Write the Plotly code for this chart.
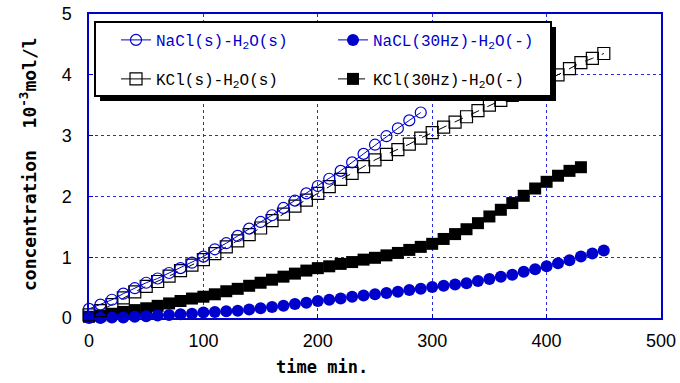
import plotly.graph_objects as go

# ---- data ----
t_nacl_s = list(range(0, 300, 10))
nacl_s = [0.15, 0.22, 0.30, 0.40, 0.49, 0.58, 0.65, 0.74, 0.82, 0.91,
          1.01, 1.13, 1.23, 1.35, 1.47, 1.58, 1.69, 1.81, 1.93, 2.05,
          2.17, 2.29, 2.42, 2.56, 2.70, 2.85, 2.99, 3.12, 3.25, 3.38]

t_nacl_30 = list(range(0, 460, 10))
nacl_30 = [0.00, 0.00, 0.01, 0.01, 0.02, 0.03, 0.04, 0.05, 0.06, 0.07,
           0.09, 0.10, 0.11, 0.12, 0.14, 0.16, 0.18, 0.20, 0.23, 0.25,
           0.28, 0.30, 0.32, 0.35, 0.37, 0.39, 0.41, 0.43, 0.46, 0.48,
           0.51, 0.53, 0.55, 0.57, 0.61, 0.64, 0.68, 0.71, 0.76, 0.80,
           0.85, 0.90, 0.95, 1.01, 1.06, 1.11]

t_kcl_s = list(range(0, 460, 10))
kcl_s = [0.05, 0.12, 0.22, 0.33, 0.43, 0.52, 0.60, 0.69, 0.78, 0.87,
         0.96, 1.06, 1.17, 1.27, 1.37, 1.48, 1.60, 1.71, 1.84, 1.94,
         2.05, 2.16, 2.28, 2.38, 2.49, 2.60, 2.69, 2.77, 2.86, 2.96,
         3.05, 3.14, 3.22, 3.31, 3.41, 3.50, 3.58, 3.66, 3.75, 3.84,
         3.92, 4.00, 4.10, 4.20, 4.27, 4.35]

t_kcl_30 = list(range(0, 440, 10))
kcl_30 = [0.02, 0.04, 0.07, 0.10, 0.13, 0.16, 0.20, 0.24, 0.28, 0.32,
          0.35, 0.39, 0.44, 0.48, 0.53, 0.58, 0.63, 0.68, 0.73, 0.78,
          0.82, 0.85, 0.89, 0.92, 0.96, 0.99, 1.03, 1.07, 1.12, 1.17,
          1.22, 1.30, 1.38, 1.46, 1.56, 1.67, 1.78, 1.89, 2.01, 2.13,
          2.24, 2.34, 2.42, 2.48]

x_ticks = [0, 100, 200, 300, 400, 500]
y_ticks = [0, 1, 2, 3, 4, 5]

BLUE = "#0000CC"
names = {
    "nacl_s": "<span style='color:#0000CC'>NaCl(s)-H<sub>2</sub>O(s)</span>",
    "nacl_30": "<span style='color:#0000CC'>NaCL(30Hz)-H<sub>2</sub>O(-)</span>",
    "kcl_s": "KCl(s)-H<sub>2</sub>O(s)",
    "kcl_30": "KCl(30Hz)-H<sub>2</sub>O(-)",
}

# figure fills the 680x383 window (body margin removed in post_script)
W, H = 680, 383
# plot area in window pixels: x 89..661, y 14..318
L, R, T, B = 89, W - 661, 14, H - 318
PW, PH = W - L - R, H - T - B


def px(x):
    return (x - L) / PW


def py(y):
    return (H - B - y) / PH


fig = go.Figure()
fig.add_trace(go.Scatter(x=t_kcl_30, y=kcl_30, mode="lines+markers", name=names["kcl_30"],
                         line=dict(color="black", width=1, dash="dash"),
                         marker=dict(symbol="square", size=12, color="black"),
                         cliponaxis=False, legend="legend2", legendrank=2))
fig.add_trace(go.Scatter(x=t_nacl_30, y=nacl_30, mode="lines+markers", name=names["nacl_30"],
                         line=dict(color=BLUE, width=1),
                         marker=dict(symbol="circle", size=12, color=BLUE),
                         cliponaxis=False, legend="legend", legendrank=2))
fig.add_trace(go.Scatter(x=t_kcl_s, y=kcl_s, mode="lines+markers", name=names["kcl_s"],
                         line=dict(color="black", width=1, dash="dash"),
                         marker=dict(symbol="square-open", size=12, color="black",
                                     line=dict(width=1.2)),
                         cliponaxis=False, showlegend=False))
fig.add_trace(go.Scatter(x=[None], y=[None], mode="lines+markers", name=names["kcl_s"],
                         line=dict(color="black", width=1),
                         marker=dict(symbol="square-open", size=12, color="black",
                                     line=dict(width=1.2)),
                         legend="legend2", legendrank=1))
fig.add_trace(go.Scatter(x=t_nacl_s, y=nacl_s, mode="lines+markers", name=names["nacl_s"],
                         line=dict(color=BLUE, width=1),
                         marker=dict(symbol="circle-open", size=11, color=BLUE,
                                     line=dict(width=1.2)),
                         cliponaxis=False, legend="legend", legendrank=1))

axis_common = dict(showline=True, linecolor=BLUE, linewidth=1.5, mirror=True,
                   showgrid=True, gridcolor="#2a2ae0", griddash="3px,3px", gridwidth=1,
                   zeroline=False, ticks="inside", ticklen=4, tickcolor=BLUE,
                   automargin=False, ticklabeloverflow="allow",
                   tickfont=dict(family="Liberation Sans Narrow, Liberation Sans, Arial",
                                 size=18, color="black"))

fig.update_xaxes(range=[0, 500], tickvals=x_ticks, ticktext=[str(v) for v in x_ticks],
                 ticklabelstandoff=6, **axis_common)
fig.update_yaxes(range=[0, 5], tickvals=y_ticks, ticktext=[str(v) for v in y_ticks],
                 ticklabelstandoff=12, **axis_common)

legend_common = dict(orientation="h", xanchor="left", yanchor="middle",
                     entrywidth=172, bgcolor="rgba(0,0,0,0)", borderwidth=0,
                     font=dict(family="Liberation Mono, DejaVu Sans Mono, monospace",
                               size=16, color="black"),
                     traceorder="normal")

fig.update_layout(
    width=W, height=H,
    margin=dict(l=L, r=R, t=T, b=B, autoexpand=False),
    paper_bgcolor="white", plot_bgcolor="white",
    legend=dict(x=px(116), y=py(40), **legend_common),
    legend2=dict(x=px(116), y=py(79), **legend_common),
    shapes=[
        dict(type="rect", xref="paper", yref="paper",
             x0=px(100), x1=px(556), y0=py(101), y1=py(27),
             fillcolor="black", line=dict(width=0), layer="above"),
        dict(type="rect", xref="paper", yref="paper",
             x0=px(95), x1=px(551), y0=py(96), y1=py(22),
             fillcolor="white", line=dict(color="black", width=2), layer="above"),
    ],
    annotations=[
        dict(text="<b>time min.</b>", xref="paper", yref="paper",
             x=px(322), y=py(367), xanchor="center", yanchor="middle",
             showarrow=False,
             font=dict(family="DejaVu Sans Mono, monospace", size=17, color="black")),
        dict(text="<b>concentration  10<sup>-3</sup>mol/l</b>", xref="paper", yref="paper",
             x=px(28), y=py(164), xanchor="center", yanchor="middle",
             textangle=-90, showarrow=False,
             font=dict(family="DejaVu Sans Mono, monospace", size=18, color="black")),
    ],
)

fig.write_html("out.html",
               config={"displayModeBar": False},
               post_script="document.body.style.margin='0';document.body.style.overflow='hidden';")
